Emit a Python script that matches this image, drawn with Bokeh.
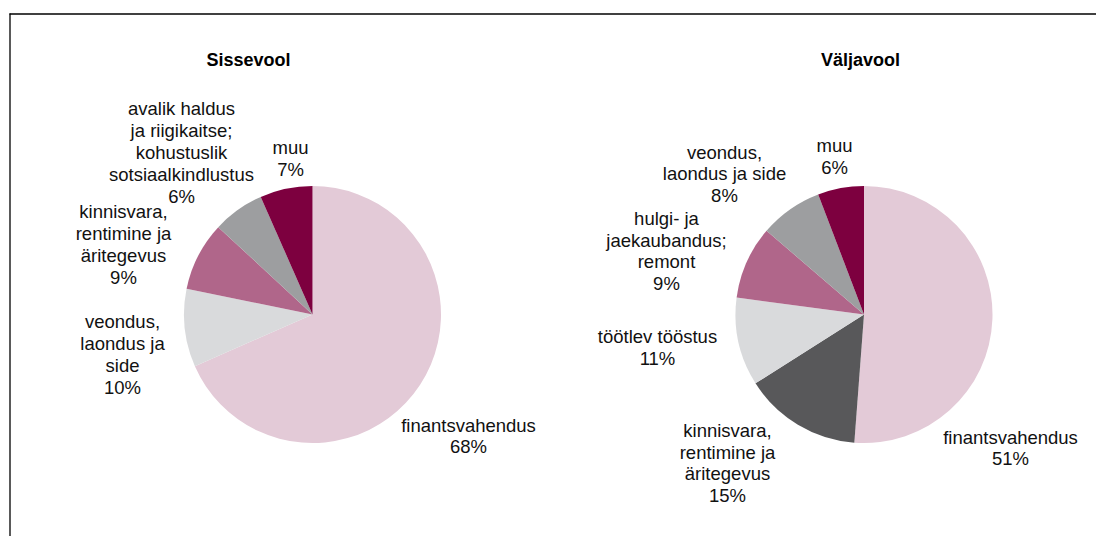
import numpy as np
from bokeh.plotting import figure
from bokeh.models import Range1d, ColumnDataSource
from bokeh.core.properties import value
from bokeh.embed import file_html
from bokeh.resources import INLINE

# ---- data ----
in_labels = ["finantsvahendus", "veondus,\nlaondus ja\nside", "kinnisvara,\nrentimine ja\näritegevus",
             "avalik haldus\nja riigikaitse;\nkohustuslik\nsotsiaalkindlustus", "muu"]
in_values = [68.4, 9.8, 8.7, 6.5, 6.6]
in_pct = ["68%", "10%", "9%", "6%", "7%"]

out_labels = ["finantsvahendus", "kinnisvara,\nrentimine ja\näritegevus", "töötlev tööstus",
              "hulgi- ja\njaekaubandus;\nremont", "veondus,\nlaondus ja side", "muu"]
out_values = [51.2, 14.8, 11.1, 9.2, 7.9, 5.8]
out_pct = ["51%", "15%", "11%", "9%", "8%", "6%"]

titles = ["Sissevool", "Väljavool"]

# ---- styles / layout ----
in_colors = ["#E3CAD7", "#D9DADC", "#B0668A", "#9D9EA0", "#7D003F"]
out_colors = ["#E3CAD7", "#58585A", "#D9DADC", "#B0668A", "#9D9EA0", "#7D003F"]

W, H = 1096, 536
def X(px):
    return px
def Y(py):
    return H - py

centers = [(312, 314), (863.5, 314)]
R = 128.5
title_pos = [(248, 59), (860, 59)]
in_label_pos = [(468, 435.5), (122, 354), (123, 244), (181, 152), (290, 158)]
out_label_pos = [(1010, 447.5), (727, 462.5), (657, 347), (666, 250.5), (724, 173.5), (834, 156)]

FONT = "Liberation Sans"
FS = "18.5px"

p = figure(width=W, height=H, output_backend="svg", toolbar_location=None,
           x_range=Range1d(0, W), y_range=Range1d(0, H), min_border=0)
p.axis.visible = False
p.grid.visible = False
p.outline_line_color = None
p.background_fill_color = "white"

# frame lines (top and left)
p.segment(x0=[X(9), X(9.5)], y0=[Y(13.5), Y(13)], x1=[X(1200), X(9.5)], y1=[Y(13.5), Y(600)],
          line_color="black", line_width=1.3)


def draw_pie(values, colors, labels, pcts, center, label_pos, title, tpos):
    v = np.array(values, dtype=float)
    frac = v / v.sum()
    cum = np.concatenate([[0], np.cumsum(frac)])
    # clockwise from 12 o'clock
    start = np.pi / 2 - 2 * np.pi * cum[1:]
    end = np.pi / 2 - 2 * np.pi * cum[:-1]
    src = ColumnDataSource(dict(start=start, end=end, color=colors))
    p.wedge(x=X(center[0]), y=Y(center[1]), radius=R, start_angle="start", end_angle="end",
            fill_color="color", line_color=None, source=src)
    texts = [f"{l}\n{c}" for l, c in zip(labels, pcts)]
    lx = [X(a) for a, b in label_pos]
    ly = [Y(b) for a, b in label_pos]
    p.text(x=lx, y=ly, text=texts, text_align="center", text_baseline="middle",
           text_font=value(FONT), text_font_size=FS, text_line_height=1.04, text_color="#111111")
    p.text(x=[X(tpos[0])], y=[Y(tpos[1])], text=[title], text_align="center", text_baseline="middle",
           text_font=value(FONT), text_font_size="18px", text_font_style="bold", text_color="black")


draw_pie(in_values, in_colors, in_labels, in_pct, centers[0], in_label_pos, titles[0], title_pos[0])
draw_pie(out_values, out_colors, out_labels, out_pct, centers[1], out_label_pos, titles[1], title_pos[1])

open("out.html", "w").write(file_html(p, INLINE))
